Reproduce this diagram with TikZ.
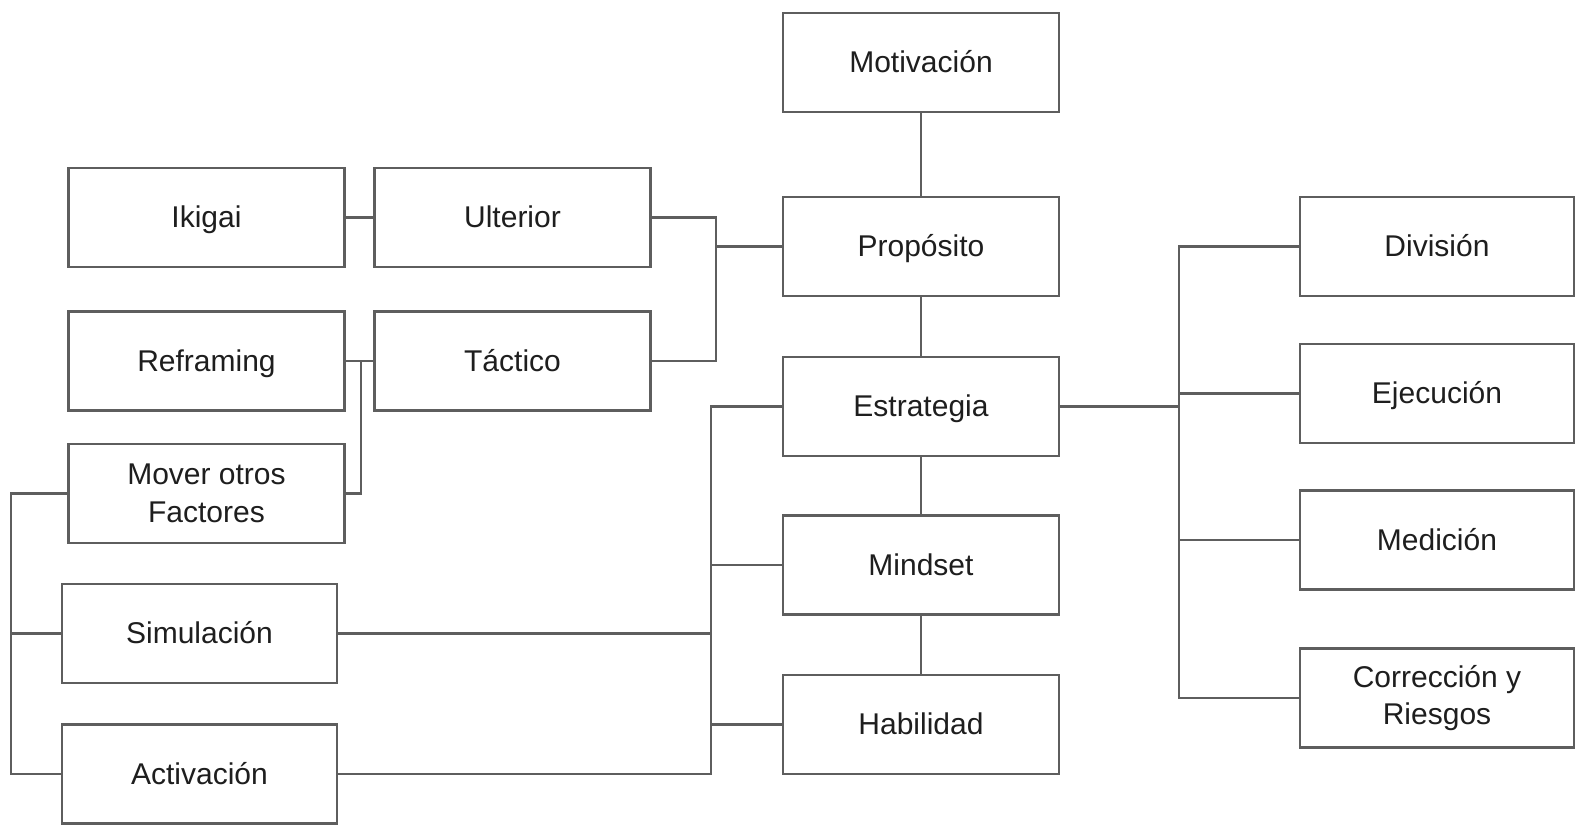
\documentclass[tikz,border=0pt]{standalone}
\usepackage{fontspec}
\setmainfont{Liberation Sans}
\begin{document}
\definecolor{edgegray}{HTML}{5E5E5E}
\definecolor{textgray}{HTML}{1E1E1E}
\begin{tikzpicture}[x=1pt,y=-1pt,
  boxbase/.style={draw=edgegray, line width=2.3pt, fill=white,
    minimum width=276pt, minimum height=99pt, inner sep=0pt,
    align=center, text=textgray,
    font=\fontsize{30}{37.5}\selectfont},
  box/.style={boxbase, text height=27pt, text depth=6.4pt},
  twoline/.style={boxbase},
  link/.style={draw=edgegray, line width=2.3pt}]
\useasboundingbox (0,0) rectangle (1575,826);

% central column
\node[box] (mot)  at (921,62.5)  {Motivación};
\node[box] (prop) at (921,246.5) {Propósito};
\node[box] (estr) at (921,406.5) {Estrategia};
\node[box] (mind) at (921,565)   {Mindset};
\node[box] (hab)  at (921,724.5) {Habilidad};

% left side
\node[box] (iki)  at (206.5,217.5) {Ikigai};
\node[box] (ult)  at (512.5,217.5) {Ulterior};
\node[box] (refr) at (206.5,361)   {Reframing};
\node[box] (tac)  at (512.5,361)   {Táctico};
\node[twoline] (mov) at (206.5,493.5) {Mover otros\\Factores};
\node[box, minimum width=275pt] (sim) at (199.5,633.5) {Simulación};
\node[box, minimum width=275pt] (act) at (199.5,774)   {Activación};

% right side
\node[box, minimum width=274pt] (div) at (1437,246.5) {División};
\node[box, minimum width=274pt] (eje) at (1437,393.5) {Ejecución};
\node[box, minimum width=274pt] (med) at (1437,540)   {Medición};
\node[twoline, minimum width=274pt] (cor) at (1437,698) {Corrección y\\Riesgos};

% junction points
\coordinate (rj) at (361,361);
\coordinate (jl) at (716,246.5);
\coordinate (lb) at (11,633.5);
\coordinate (mx) at (711,600);
\coordinate (rx) at (1179,450);

% vertical chain
\draw[link] (mot) -- (prop);
\draw[link] (prop) -- (estr);
\draw[link] (estr) -- (mind);
\draw[link] (mind) -- (hab);

% purpose branches
\draw[link] (iki) -- (ult);
\draw[link] (refr) -- (tac);
\draw[link] (mov.east) -| (rj);
\draw[link] (ult.east) -| (jl) |- (tac.east);
\draw[link] (jl) -- (prop.west);

% outer left bracket
\draw[link] (mov.west) -| (lb) |- (act.west);
\draw[link] (sim.west) -- (lb);

% strategy bracket on the left
\draw[link] (estr.west) -| (mx) |- (act.east);
\draw[link] (sim.east) -- (sim.east -| mx);
\draw[link] (mind.west) -- (mind.west -| mx);
\draw[link] (hab.west) -- (hab.west -| mx);

% strategy bracket on the right
\draw[link] (estr.east) -- (estr.east -| rx);
\draw[link] (div.west) -| (rx) |- (cor.west);
\draw[link] (eje.west) -- (eje.west -| rx);
\draw[link] (med.west) -- (med.west -| rx);
\end{tikzpicture}
\end{document}
